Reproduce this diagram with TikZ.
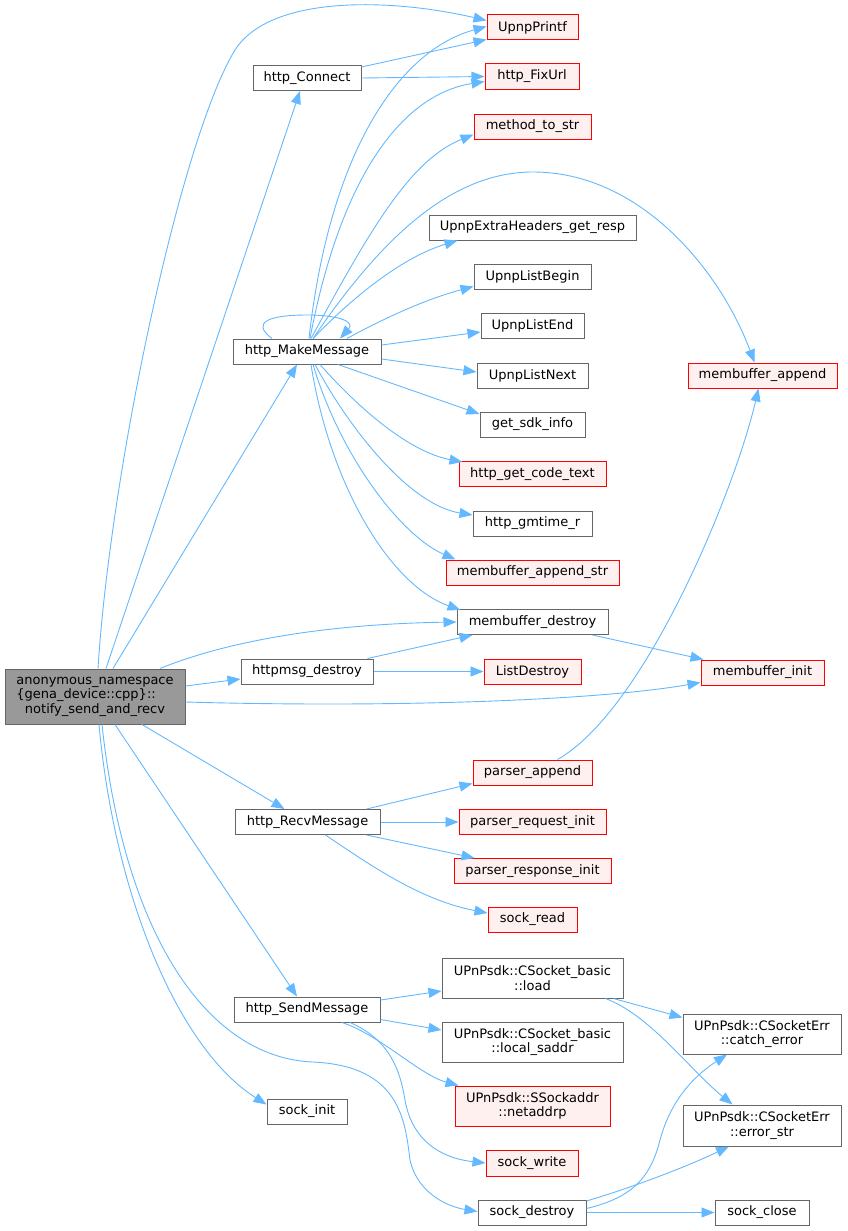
\documentclass[tikz,border=0pt]{standalone}
\usepackage{fontspec}
\setmainfont{DejaVu Sans}
\usetikzlibrary{arrows.meta}
\definecolor{edgec}{HTML}{63B8FF}
\definecolor{grayb}{HTML}{666666}
\definecolor{redb}{HTML}{FF0000}
\definecolor{redf}{HTML}{FFF0F0}
\definecolor{mainf}{HTML}{999999}
\tikzset{
  box/.style={draw=grayb, fill=white, line width=1pt, inner sep=0pt, minimum height=25pt, align=center, font=\fontsize{13}{14.5}\selectfont},
  redbox/.style={box, draw=redb, fill=redf},
  mainbox/.style={box, fill=mainf},
  edge/.style={draw=edgec, line width=0.9pt, -{Triangle[length=13pt,width=10pt]}},
}
\begin{document}
\begin{tikzpicture}[x=1pt,y=-1pt]
\useasboundingbox (0,0) rectangle (847,1231);
% nodes
\node[mainbox, minimum width=180pt, minimum height=55pt] (main) at (95,696.5) {anonymous\_namespace\\\rlap{\{gena\_device::cpp\}::}\hphantom{anonymous\_namespace}\\notify\_send\_and\_recv};
\node[box, minimum width=108pt] (conn) at (307,78) {http\_Connect};
\node[box, minimum width=148pt] (mm) at (307,351.5) {http\_MakeMessage};
\node[redbox, minimum width=91pt] (printf) at (532.5,27.5) {UpnpPrintf};
\node[redbox, minimum width=94pt] (fixurl) at (532,76.5) {http\_FixUrl};
\node[redbox, minimum width=117pt] (mts) at (532.5,126.5) {method\_to\_str};
\node[box, minimum width=207pt] (extra) at (532.5,227.5) {UpnpExtraHeaders\_get\_resp};
\node[box, minimum width=117pt] (lbegin) at (532.5,276.5) {UpnpListBegin};
\node[box, minimum width=103pt] (lend) at (532.5,326) {UpnpListEnd};
\node[box, minimum width=111pt] (lnext) at (532.5,375.5) {UpnpListNext};
\node[redbox, minimum width=149pt] (mbappend) at (762.5,375.5) {membuffer\_append};
\node[box, minimum width=105pt] (sdk) at (532.5,424.5) {get\_sdk\_info};
\node[redbox, minimum width=147pt] (code) at (532.5,474) {http\_get\_code\_text};
\node[box, minimum width=119pt] (gmt) at (532.5,523.5) {http\_gmtime\_r};
\node[redbox, minimum width=173pt] (mbstr) at (532.5,572.5) {membuffer\_append\_str};
\node[box, minimum width=151pt] (mbdestroy) at (532.5,622) {membuffer\_destroy};
\node[box, minimum width=132pt] (hdestroy) at (307,671.5) {httpmsg\_destroy};
\node[redbox, minimum width=97pt] (ldestroy) at (532.5,671.5) {ListDestroy};
\node[redbox, minimum width=123pt] (mbinit) at (762.5,672.5) {membuffer\_init};
\node[redbox, minimum width=119pt] (pappend) at (532.5,772.5) {parser\_append};
\node[box, minimum width=145pt] (recv) at (307.5,822) {http\_RecvMessage};
\node[redbox, minimum width=147pt] (preq) at (532.5,822) {parser\_request\_init};
\node[redbox, minimum width=157pt] (presp) at (532.5,871) {parser\_response\_init};
\node[redbox, minimum width=89pt] (sread) at (532.5,919.5) {sock\_read};
\node[box, minimum width=146pt] (send) at (307,1009.5) {http\_SendMessage};
\node[box, minimum width=80pt] (sinit) at (307,1111.5) {sock\_init};
\node[box, minimum width=181pt, minimum height=40pt] (load) at (532.5,978) {UPnPsdk::CSocket\_basic\\::load};
\node[box, minimum width=181pt, minimum height=40pt] (saddr) at (532.5,1042) {UPnPsdk::CSocket\_basic\\::local\_saddr};
\node[redbox, minimum width=155pt, minimum height=40pt] (netaddr) at (532.5,1106) {UPnPsdk::SSockaddr\\::netaddrp};
\node[redbox, minimum width=92pt, minimum height=26pt] (swrite) at (532,1163) {sock\_write};
\node[box, minimum width=108pt] (sdestroy) at (532,1212.5) {sock\_destroy};
\node[box, minimum width=158pt, minimum height=40pt] (catch) at (762,1034) {UPnPsdk::CSocketErr\\::catch\_error};
\node[box, minimum width=158pt, minimum height=41pt] (errstr) at (762,1125.5) {UPnPsdk::CSocketErr\\::error\_str};
\node[box, minimum width=94pt] (sclose) at (762,1212.5) {sock\_close};
% edges from main
\draw[edge] ([xshift=3pt]main.north) .. controls (110,475) and (180,140) .. (235,50) .. controls (270,-5) and (390,-2) .. ([yshift=7pt]printf.west);
\draw[edge] ([xshift=11pt]main.north) -- ([xshift=-7pt]conn.south);
\draw[edge] ([xshift=18pt]main.north) -- ([xshift=-10pt]mm.south);
\draw[edge] ([xshift=65pt]main.north) .. controls (230,640) and (330,624) .. (mbdestroy.west);
\draw[edge] ([yshift=10.5pt]main.east) -- ([yshift=-7.5pt]hdestroy.west);
\draw[edge] ([yshift=-5.5pt]main.east) .. controls (400,708) and (600,700) .. ([yshift=-10pt]mbinit.west);
\draw[edge] ([xshift=47pt]main.south) -- ([xshift=-23pt]recv.north);
\draw[edge] ([xshift=20pt]main.south) -- ([xshift=-10pt]send.north);
\draw[edge] ([xshift=4pt]main.south) .. controls (115,900) and (180,1050) .. ([yshift=7pt]sinit.west);
\draw[edge] ([xshift=7pt]main.south) .. controls (125,940) and (210,1058) .. (313,1062) .. controls (400,1066) and (405,1120) .. (410,1160) .. controls (418,1195) and (450,1207) .. ([yshift=1pt]sdestroy.west);
% http_Connect
\draw[edge] ([yshift=-2pt]conn.north east) -- ([yshift=1pt]printf.south west);
\draw[edge] (conn.east) -- (fixurl.west);
% http_MakeMessage
\draw[edge] ([xshift=2pt]mm.north) .. controls (330,150) and (400,50) .. ([yshift=1pt]printf.west);
\draw[edge] ([xshift=3pt]mm.north) .. controls (340,180) and (400,95) .. ([yshift=-5pt]fixurl.west);
\draw[edge] ([xshift=4pt]mm.north) .. controls (370,230) and (410,160) .. ([yshift=-8pt]mts.west);
\draw[edge] ([xshift=6pt]mm.north) .. controls (380,240) and (450,172) .. (533,172) .. controls (640,172) and (720,270) .. ([xshift=-8pt]mbappend.north);
\draw[edge] ([xshift=6pt]mm.north) .. controls (350,300) and (400,258) .. ([xshift=-75pt]extra.south);
\draw[edge] ([xshift=40pt]mm.north) .. controls (390,315) and (430,298) .. ([yshift=-10pt]lbegin.west);
\draw[edge] ([xshift=-35pt]mm.north) .. controls (250,322) and (270,315) .. (307,315) .. controls (340,315) and (355,322) .. ([xshift=33pt]mm.north);
\draw[edge] ([yshift=6.5pt]mm.east) -- ([yshift=-6pt]lend.west);
\draw[edge] ([yshift=-7.5pt]mm.east) -- ([yshift=3.5pt]lnext.west);
\draw[edge] ([xshift=31pt]mm.south) -- ([yshift=10.5pt]sdk.west);
\draw[edge] ([xshift=13pt]mm.south) .. controls (360,410) and (410,452) .. ([xshift=4pt,yshift=-1pt]code.north west);
\draw[edge] ([xshift=8pt]mm.south) .. controls (350,430) and (410,505) .. ([yshift=8.5pt]gmt.west);
\draw[edge] ([xshift=6pt]mm.south) .. controls (340,455) and (400,535) .. ([xshift=10pt]mbstr.north west);
\draw[edge] ([xshift=4pt]mm.south) .. controls (330,485) and (390,585) .. ([xshift=4pt,yshift=-1pt]mbdestroy.north west);
% httpmsg_destroy
\draw[edge] ([xshift=-6pt]hdestroy.north east) -- ([xshift=16pt]mbdestroy.south west);
\draw[edge] (hdestroy.east) -- (ldestroy.west);
\draw[edge] ([xshift=-16pt]mbdestroy.south east) -- ([xshift=3pt]mbinit.north west);
\draw[edge] ([xshift=25pt]pappend.north) .. controls (645,710) and (735,490) .. ([xshift=-4pt]mbappend.south);
% http_RecvMessage
\draw[edge] ([xshift=-14pt]recv.north east) -- ([yshift=-11pt]pappend.west);
\draw[edge] (recv.east) -- (preq.west);
\draw[edge] ([xshift=-14pt]recv.south east) -- ([xshift=21pt]presp.north west);
\draw[edge] ([xshift=18pt]recv.south) .. controls (370,865) and (420,900) .. ([yshift=6.5pt]sread.west);
% http_SendMessage
\draw[edge] ([yshift=9.5pt]send.east) -- ([yshift=-13pt]load.west);
\draw[edge] ([yshift=-10pt]send.east) -- ([yshift=12pt]saddr.west);
\draw[edge] ([xshift=35pt]send.south) .. controls (380,1035) and (420,1075) .. ([xshift=4pt]netaddr.north west);
\draw[edge] ([xshift=43pt]send.south) .. controls (390,1040) and (400,1070) .. (405,1100) .. controls (412,1140) and (440,1158) .. (swrite.west);
% load
\draw[edge] ([xshift=-10pt]load.south east) -- ([yshift=-4pt]catch.north west);
\draw[edge] ([xshift=-18pt]load.south east) .. controls (650,1015) and (690,1070) .. ([xshift=50pt]errstr.north west);
% sock_destroy
\draw[edge] ([yshift=4pt]sdestroy.east) .. controls (630,1198) and (650,1180) .. (660,1140) .. controls (672,1095) and (700,1072) .. ([xshift=-35pt]catch.south);
\draw[edge] ([yshift=11.5pt]sdestroy.east) .. controls (640,1185) and (690,1165) .. ([xshift=-33pt]errstr.south);
\draw[edge] (sdestroy.east) -- (sclose.west);
\end{tikzpicture}
\end{document}
